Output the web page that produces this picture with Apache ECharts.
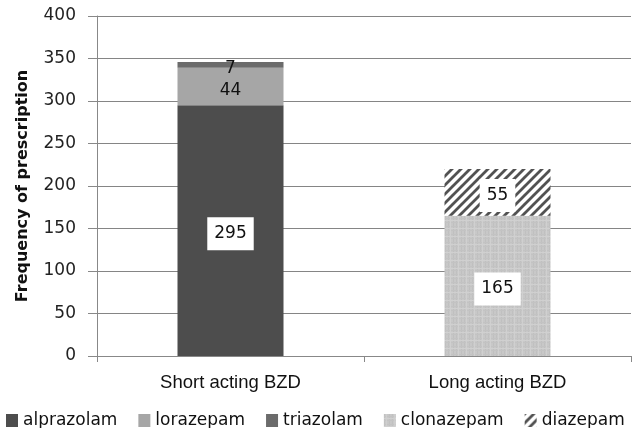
<!DOCTYPE html>
<html>
<head>
<meta charset="utf-8">
<script src="https://cdn.jsdelivr.net/npm/echarts@6/dist/echarts.min.js"></script>
<style>
  html, body { margin: 0; padding: 0; background: #fff; }
  #chart { width: 640px; height: 428px; }
</style>
</head>
<body>
<div id="chart"></div>
<script>
// Benzodiazepine prescriptions, grouped by duration of action
const categories = ['Short acting BZD', 'Long acting BZD'];
const alprazolam = [295, null];
const lorazepam = [44, null];
const triazolam = [7, null];
const clonazepam = [null, 165];
const diazepam = [null, 55];
const yTicks = { min: 0, max: 400, interval: 50 };

// Fine woven grey texture used for clonazepam
function wovenPattern() {
  const c = document.createElement('canvas');
  c.width = 8; c.height = 8;
  const g = c.getContext('2d');
  g.fillStyle = '#c8c8c8';
  g.fillRect(0, 0, 8, 8);
  g.fillStyle = '#c0c0c0';
  g.fillRect(0, 0, 1, 8);
  g.fillRect(5, 0, 1, 8);
  g.fillStyle = '#c3c3c3';
  g.fillRect(0, 2, 8, 1);
  g.fillRect(0, 6, 8, 1);
  g.fillStyle = '#d0d0d0';
  g.fillRect(2, 0, 1, 8);
  g.fillRect(0, 4, 8, 1);
  return c;
}

// Diagonal dark hatching used for diazepam
function hatchPattern() {
  const s = 9;
  const c = document.createElement('canvas');
  c.width = s; c.height = s;
  const g = c.getContext('2d');
  g.fillStyle = '#ffffff';
  g.fillRect(0, 0, s, s);
  g.strokeStyle = '#525252';
  g.lineWidth = 2.8;
  g.beginPath();
  g.moveTo(-s, s); g.lineTo(s, -s);
  g.moveTo(0, s); g.lineTo(s, 0);
  g.moveTo(0, 2 * s); g.lineTo(2 * s, 0);
  g.stroke();
  return c;
}

const boxedLabel = {
  show: true,
  position: 'inside',
  offset: [0, 3],
  color: '#111',
  fontFamily: 'DejaVu Sans',
  fontSize: 17,
  backgroundColor: '#ffffff',
  padding: [8, 7]
};
const plainLabel = {
  show: true,
  position: 'inside',
  offset: [0, 4],
  color: '#111',
  fontFamily: 'DejaVu Sans',
  fontSize: 17
};

function bar(name, data, color, label) {
  return {
    name: name,
    type: 'bar',
    stack: 'total',
    data: data,
    barWidth: 106,
    itemStyle: { color: color },
    label: label,
    emphasis: { disabled: true }
  };
}

const chart = echarts.init(document.getElementById('chart'), null, { renderer: 'canvas' });
chart.setOption({
  animation: false,
  backgroundColor: '#ffffff',
  grid: { left: 97, right: 9, top: 16, bottom: 72 },
  legend: {
    left: 1,
    top: 407,
    itemWidth: 12,
    itemHeight: 13,
    itemGap: 21,
    icon: 'rect',
    textStyle: { fontFamily: 'DejaVu Sans', fontSize: 17, color: '#111' },
    data: ['alprazolam', 'lorazepam', 'triazolam', 'clonazepam', 'diazepam']
  },
  xAxis: {
    type: 'category',
    data: categories,
    axisLine: { lineStyle: { color: '#888', width: 1 } },
    axisTick: { show: true, length: 6, lineStyle: { color: '#888' } },
    axisLabel: { fontFamily: 'Liberation Sans', fontSize: 18.5, color: '#111', margin: 17 }
  },
  yAxis: {
    type: 'value',
    min: yTicks.min,
    max: yTicks.max,
    interval: yTicks.interval,
    name: 'Frequency of prescription',
    nameLocation: 'middle',
    nameGap: 66,
    nameTextStyle: { fontFamily: 'DejaVu Sans', fontSize: 16, fontWeight: 'bold', color: '#111' },
    axisLine: { show: true, lineStyle: { color: '#888', width: 1 } },
    axisTick: { show: true, length: 9, lineStyle: { color: '#888' } },
    axisLabel: { fontFamily: 'DejaVu Sans', fontSize: 17, color: '#222', margin: 21 },
    splitLine: { show: true, lineStyle: { color: '#858585', width: 1 } }
  },
  series: [
    bar('alprazolam', alprazolam, '#4d4d4d', boxedLabel),
    bar('lorazepam', lorazepam, '#a6a6a6', plainLabel),
    bar('triazolam', triazolam, '#6b6b6b', plainLabel),
    bar('clonazepam', clonazepam, { image: wovenPattern(), repeat: 'repeat' }, boxedLabel),
    bar('diazepam', diazepam, { image: hatchPattern(), repeat: 'repeat' }, boxedLabel)
  ]
});
</script>
</body>
</html>
